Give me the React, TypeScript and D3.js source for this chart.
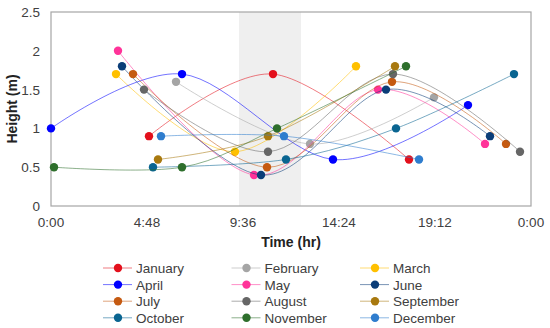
import React, { useRef, useEffect } from 'react'
import * as d3 from 'd3'

// [hour of day, height in m]
const january: [number, number][] = [[4.9, 0.9], [11.1, 1.7], [17.9, 0.6]]
const february: [number, number][] = [[6.25, 1.6], [12.95, 0.8], [19.15, 1.4]]
const march: [number, number][] = [[3.25, 1.7], [9.2, 0.7], [15.25, 1.8]]
const april: [number, number][] = [[0, 1.0], [6.55, 1.7], [14.1, 0.6], [20.85, 1.3]]
const may: [number, number][] = [[3.35, 2.0], [10.15, 0.4], [16.35, 1.5], [21.7, 0.8]]
const june: [number, number][] = [[3.55, 1.8], [10.5, 0.4], [16.75, 1.5], [21.95, 0.9]]
const july: [number, number][] = [[4.1, 1.7], [10.8, 0.5], [17.05, 1.6], [22.75, 0.8]]
const august: [number, number][] = [[4.65, 1.5], [10.85, 0.7], [17.1, 1.7], [23.45, 0.7]]
const september: [number, number][] = [[5.35, 0.6], [10.85, 0.9], [17.2, 1.8]]
const october: [number, number][] = [[5.1, 0.5], [11.75, 0.6], [17.25, 1.0], [23.15, 1.7]]
const november: [number, number][] = [[0.15, 0.5], [6.55, 0.5], [11.3, 1.0], [17.75, 1.8]]
const december: [number, number][] = [[5.5, 0.9], [11.65, 0.9], [18.4, 0.6]]

const monthNames = [
    'January', 'February', 'March', 'April', 'May', 'June',
    'July', 'August', 'September', 'October', 'November', 'December',
]
const monthData = [
    january, february, march, april, may, june,
    july, august, september, october, november, december,
]
const monthColors = [
    '#e3101c', '#a5a5a5', '#ffc000', '#0000ff', '#ff3399', '#0b3d78',
    '#c55a11', '#666666', '#a8790f', '#0a6591', '#2e6f2c', '#2f7dce',
]

const xTicks = [0, 4.8, 9.6, 14.4, 19.2, 24]
const yTicks = [0, 0.5, 1, 1.5, 2, 2.5]
const band: [number, number] = [9.4, 12.5]

const fmtTime = (h: number) => {
    const mins = Math.round(h * 60) % (24 * 60)
    return `${Math.floor(mins / 60)}:${String(mins % 60).padStart(2, '0')}`
}

const App: React.FC = () => {
    const svgRef = useRef<SVGSVGElement>(null)

    useEffect(() => {
        if (!svgRef.current) return
        const svg = d3.select(svgRef.current)
        svg.selectAll('*').remove()

        const font = 'Liberation Sans, Arial, sans-serif'
        const margin = { top: 12, right: 19, bottom: 122, left: 51 }
        const width = 550
        const height = 328
        const innerW = width - margin.left - margin.right
        const innerH = height - margin.top - margin.bottom

        const x = d3.scaleLinear().domain([0, 24]).range([margin.left, margin.left + innerW])
        const y = d3.scaleLinear().domain([0, 2.5]).range([margin.top + innerH, margin.top])

        // 灰色区间
        svg.append('rect')
            .attr('x', x(band[0]))
            .attr('y', y(2.5))
            .attr('width', x(band[1]) - x(band[0]))
            .attr('height', y(0) - y(2.5))
            .attr('fill', '#efefef')

        // 边框
        svg.append('rect')
            .attr('x', x(0))
            .attr('y', y(2.5))
            .attr('width', x(24) - x(0))
            .attr('height', y(0) - y(2.5))
            .attr('fill', 'none')
            .attr('stroke', '#a6a6a6')
            .attr('stroke-width', 1.2)

        // Y轴刻度
        svg.append('g')
            .selectAll('text')
            .data(yTicks)
            .enter()
            .append('text')
            .attr('x', 40)
            .attr('y', (d) => y(d) + 5)
            .attr('text-anchor', 'end')
            .style('font-family', font)
            .style('font-size', '13.5px')
            .style('fill', '#404040')
            .text((d) => String(d))

        // X轴刻度
        svg.append('g')
            .selectAll('text')
            .data(xTicks)
            .enter()
            .append('text')
            .attr('x', (d) => x(d))
            .attr('y', 227)
            .attr('text-anchor', 'middle')
            .style('font-family', font)
            .style('font-size', '13.5px')
            .style('fill', '#404040')
            .text((d) => fmtTime(d))

        // 轴标题
        svg.append('text')
            .attr('x', (x(0) + x(24)) / 2)
            .attr('y', 247)
            .attr('text-anchor', 'middle')
            .style('font-family', font)
            .style('font-size', '14px')
            .style('font-weight', 'bold')
            .style('fill', '#222')
            .text('Time (hr)')

        svg.append('text')
            .attr('transform', `translate(17,${(y(0) + y(2.5)) / 2}) rotate(-90)`)
            .attr('text-anchor', 'middle')
            .style('font-family', font)
            .style('font-size', '14px')
            .style('font-weight', 'bold')
            .style('fill', '#222')
            .text('Height (m)')

        // 平滑曲线 + 标记
        const line = d3
            .line<[number, number]>()
            .x((d) => x(d[0]))
            .y((d) => y(d[1]))
            .curve(d3.curveCardinal.tension(0))

        monthData.forEach((pts, i) => {
            const g = svg.append('g')
            g.append('path')
                .attr('d', line(pts))
                .attr('fill', 'none')
                .attr('stroke', monthColors[i])
                .attr('stroke-opacity', 0.55)
                .attr('stroke-width', 1)
            g.selectAll('circle')
                .data(pts)
                .enter()
                .append('circle')
                .attr('cx', (d) => x(d[0]))
                .attr('cy', (d) => y(d[1]))
                .attr('r', 4.2)
                .attr('fill', monthColors[i])
        })

        // 图例
        const legend = svg.append('g')
        monthNames.forEach((name, i) => {
            const col = i % 3
            const row = Math.floor(i / 3)
            const lx = 103 + col * 128.5
            const ly = 268 + row * 16.6
            const item = legend.append('g')
            item.append('line')
                .attr('x1', lx)
                .attr('x2', lx + 29)
                .attr('y1', ly)
                .attr('y2', ly)
                .attr('stroke', monthColors[i])
                .attr('stroke-opacity', 0.55)
            item.append('circle')
                .attr('cx', lx + 15)
                .attr('cy', ly)
                .attr('r', 4.2)
                .attr('fill', monthColors[i])
            item.append('text')
                .attr('x', lx + 33)
                .attr('y', ly + 5)
                .style('font-family', font)
                .style('font-size', '13.5px')
                .style('fill', '#404040')
                .text(name)
        })
    }, [])

    return (
        <div style={{ position: 'fixed', left: 0, top: 0 }}>
            <svg ref={svgRef} width={550} height={328} style={{ display: 'block', background: '#fff' }} />
        </div>
    )
}

export default App
